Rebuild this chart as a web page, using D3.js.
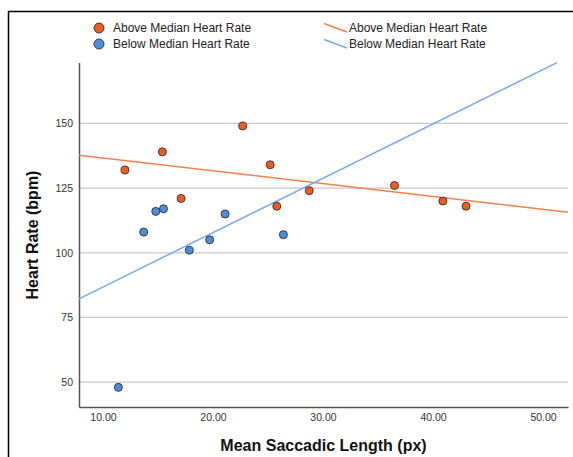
<!DOCTYPE html>
<html>
<head>
<meta charset="utf-8">
<script src="https://cdn.jsdelivr.net/npm/d3@7"></script>
<style>
  body { margin: 0; background: #fff; }
  svg { display: block; font-family: "Liberation Sans", Arial, sans-serif; }
</style>
</head>
<body>
<div class="chart"></div>
<script>
const width = 573;
const height = 457;
const margin = { top: 62.6, right: 5, bottom: 50, left: 79 };

// scatter points (mean saccadic length px, heart rate bpm)
const aboveX = [12.0, 15.4, 22.7, 17.1, 25.2, 25.8, 28.75, 36.5, 40.9, 43.0];
const aboveY = [132, 139, 149, 121, 134, 118, 124, 126, 120, 118];
const belowX = [13.7, 14.8, 15.5, 17.85, 19.7, 21.1, 26.4, 11.4];
const belowY = [108, 116, 117, 101, 105, 115, 107, 48];

// fit line end points
const aboveFitX = [7.82, 52.27];
const aboveFitY = [137.7, 115.7];
const belowFitX = [7.82, 51.27];
const belowFitY = [82.2, 173.5];

const xTicks = [10, 20, 30, 40, 50];
const yTicks = [50, 75, 100, 125, 150];

const orange = "#f05c1e";
const blue = "#4b8fdc";
const orangeLine = "#f4804c";
const blueLine = "#78aaec";

const svg = d3.select(".chart")
  .append("svg")
  .attr("width", width)
  .attr("height", height);

// outer frame
svg.append("rect")
  .attr("x", 8.5).attr("y", 11.5)
  .attr("width", 700).attr("height", 600)
  .attr("fill", "none")
  .attr("stroke", "#000")
  .attr("stroke-width", 1.5);

const xScale = d3.scaleLinear()
  .domain([7.82, 52.27])
  .range([margin.left, width - margin.right]);

const yScale = d3.scaleLinear()
  .domain([40.4, 173.5])
  .range([height - margin.bottom, margin.top]);

// gridlines
svg.append("g")
  .selectAll("line")
  .data(yTicks)
  .enter().append("line")
    .attr("x1", margin.left)
    .attr("x2", width - margin.right)
    .attr("y1", d => yScale(d))
    .attr("y2", d => yScale(d))
    .attr("stroke", "#c8c8c8")
    .attr("stroke-width", 1.2);

// axes
const yAxis = svg.append("g")
  .attr("transform", `translate(${margin.left},0)`)
  .call(d3.axisLeft(yScale).tickValues(yTicks).tickSize(0).tickPadding(6));
const xAxis = svg.append("g")
  .attr("transform", `translate(0,${height - margin.bottom})`)
  .call(d3.axisBottom(xScale).tickValues(xTicks).tickSize(0).tickPadding(7)
    .tickFormat(d3.format(".2f")));

[xAxis, yAxis].forEach(a => {
  a.select(".domain").attr("stroke", "#555").attr("stroke-width", 1.5);
  a.selectAll("text")
    .attr("font-family", "'Liberation Sans', Arial, sans-serif")
    .attr("font-size", 10.5)
    .attr("fill", "#333");
});

// fit lines
const line = d3.line().x(d => xScale(d[0])).y(d => yScale(d[1]));
svg.append("path")
  .datum(d3.zip(aboveFitX, aboveFitY))
  .attr("d", line)
  .attr("fill", "none")
  .attr("stroke", orangeLine)
  .attr("stroke-width", 1.5);
svg.append("path")
  .datum(d3.zip(belowFitX, belowFitY))
  .attr("d", line)
  .attr("fill", "none")
  .attr("stroke", blueLine)
  .attr("stroke-width", 1.5);

// points
function drawPoints(xs, ys, color) {
  svg.append("g")
    .selectAll("circle")
    .data(d3.zip(xs, ys))
    .enter().append("circle")
      .attr("cx", d => xScale(d[0]))
      .attr("cy", d => yScale(d[1]))
      .attr("r", 4)
      .attr("fill", color)
      .attr("stroke", "#3a3a3a")
      .attr("stroke-width", 1);
}
drawPoints(aboveX, aboveY, orange);
drawPoints(belowX, belowY, blue);

// axis titles
svg.append("text")
  .attr("x", (margin.left + width - margin.right) / 2)
  .attr("y", 451)
  .attr("text-anchor", "middle")
  .attr("font-size", 16)
  .attr("font-weight", "bold")
  .attr("fill", "#111")
  .text("Mean Saccadic Length (px)");

svg.append("text")
  .attr("transform", "translate(38,235) rotate(-90)")
  .attr("text-anchor", "middle")
  .attr("font-size", 16)
  .attr("font-weight", "bold")
  .attr("fill", "#111")
  .text("Heart Rate (bpm)");

// legend
const legendItems = [
  { label: "Above Median Heart Rate", color: orange, lineColor: orangeLine, y: 28 },
  { label: "Below Median Heart Rate", color: blue, lineColor: blueLine, y: 44 }
];
const legend = svg.append("g");
legendItems.forEach(d => {
  legend.append("circle")
    .attr("cx", 99).attr("cy", d.y).attr("r", 5)
    .attr("fill", d.color).attr("stroke", "#3a3a3a").attr("stroke-width", 1);
  legend.append("text")
    .attr("x", 113).attr("y", d.y + 4.2)
    .attr("font-size", 12).attr("fill", "#222")
    .text(d.label);
  legend.append("line")
    .attr("x1", 324).attr("y1", d.y - 4.5)
    .attr("x2", 347).attr("y2", d.y + 4)
    .attr("stroke", d.lineColor).attr("stroke-width", 1.5);
  legend.append("text")
    .attr("x", 349).attr("y", d.y + 4.2)
    .attr("font-size", 12).attr("fill", "#222")
    .text(d.label);
});
</script>
</body>
</html>
